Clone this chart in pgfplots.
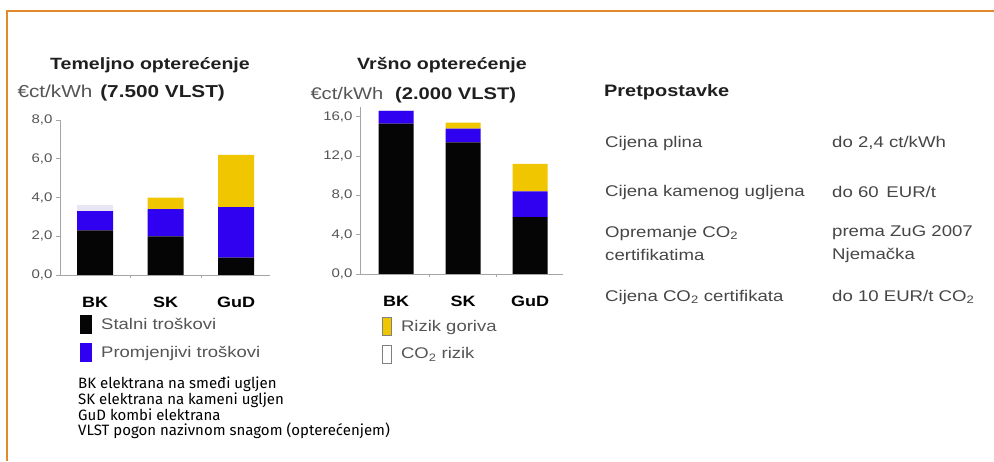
\documentclass[border=0pt]{standalone}
\usepackage{pgfplots}
\pgfplotsset{compat=1.18}
\usepackage{pgfplotstable}
\usepackage{fontspec}
\setmainfont{Liberation Sans}
\newfontfamily\cf[FakeStretch=1.2]{Liberation Sans}
\newfontfamily\notefont{Fira Sans}
\definecolor{barblack}{RGB}{5,5,5}
\definecolor{barblue}{RGB}{48,0,240}
\definecolor{baryellow}{RGB}{240,198,0}
\definecolor{barco}{RGB}{232,230,244}
\definecolor{axisgray}{RGB}{165,165,165}
\definecolor{labgray}{RGB}{85,85,85}
\definecolor{txtgray}{RGB}{70,70,70}
\definecolor{framecol}{RGB}{224,138,44}

\pgfplotstableread{
x fixed var fuel co
0 2.3 1.0 0.0 0.3
1 2.0 1.4 0.6 0.0
2 0.9 2.6 2.7 0.0
}\basetab
\pgfplotstableread{
x fixed var fuel co
0 15.3 1.3 0.0 0.1
1 13.4 1.4 0.6 0.0
2 5.8 2.6 2.8 0.0
}\peaktab

\pgfplotsset{
  barchart/.style={
    scale only axis, anchor=south west,
    ybar stacked,
    axis x line=bottom, axis y line=left,
    axis line style={draw=axisgray, line width=0.8pt, -},
    tick align=outside,
    major tick length=4pt, minor tick length=3pt,
    xtick={0,1,2}, xticklabels={BK,SK,GuD},
    minor xtick={0.5,1.5},
    major x tick style={draw=none},
    minor x tick style={draw=axisgray, line width=0.8pt},
    major y tick style={draw=axisgray, line width=0.8pt},
    xticklabel style={font=\cf\bfseries\fontsize{15}{15}\selectfont, text=black, anchor=center, yshift=-23pt},
    yticklabel style={font=\cf\fontsize{12.5}{12.5}\selectfont, text=labgray},
    /pgf/number format/.cd, fixed, fixed zerofill, precision=1, use comma, assume math mode=true,
    /pgfplots/.cd,
    ymin=0,
    legend style={draw=none, fill=none, anchor=north west,
      font=\cf\fontsize{15.4}{15.4}\selectfont\color{labgray},
      row sep=9pt, nodes={inner sep=0pt},
      /tikz/every odd column/.style={column sep=9pt}},
    legend cell align=left,
  }
}

\begin{document}
\begin{tikzpicture}[x=1pt,y=1pt]
\useasboundingbox (0,0) rectangle (994,461);
\fill[white] (0,0) rectangle (994,461);
\draw[framecol, line width=2.5pt] (7,0) -- (7,450) -- (995,450);

% ---- base load chart
\begin{axis}[barchart, at={(60pt,186pt)}, width=210pt, height=155pt,
  xmin=-0.5, xmax=2.48, ymax=8, ytick={0,2,4,6,8}, bar width=36pt,
  legend style={at={(0.081,-0.245)}},
  legend entries={Stalni troškovi, Promjenjivi troškovi}]
\addplot[fill=barblack, draw=none, legend image code/.code={\fill[barblack] (0pt,-9.5pt) rectangle (12pt,9.5pt);}] table[x=x,y=fixed]{\basetab};
\addplot[fill=barblue, draw=none, legend image code/.code={\fill[barblue] (0pt,-9.5pt) rectangle (12pt,9.5pt);}] table[x=x,y=var]{\basetab};
\addplot[fill=baryellow, draw=none] table[x=x,y=fuel]{\basetab};
\addplot[fill=barco, draw=none] table[x=x,y=co]{\basetab};
\end{axis}

% ---- peak load chart
\begin{axis}[barchart, at={(360pt,187pt)}, width=203pt, height=167pt,
  xmin=-0.54, xmax=2.49, ymax=17, ytick={0,4,8,12,16}, bar width=35pt,
  legend style={at={(0.094,-0.245)}},
  legend entries={,,Rizik goriva,CO\textsubscript{2} rizik}]
\addplot[fill=barblack, draw=none] table[x=x,y=fixed]{\peaktab};
\addplot[fill=barblue, draw=none] table[x=x,y=var]{\peaktab};
\addplot[fill=baryellow, draw=none, legend image code/.code={\filldraw[fill=baryellow, draw=gray, line width=0.6pt] (0pt,-9pt) rectangle (9pt,9pt);}] table[x=x,y=fuel]{\peaktab};
\addplot[fill=barco, draw=none, legend image code/.code={\filldraw[fill=white, draw=gray, line width=0.8pt] (0pt,-9pt) rectangle (9pt,9pt);}] table[x=x,y=co]{\peaktab};
\end{axis}

% ---- chart titles
\node[font=\cf\bfseries\fontsize{16.3}{16.3}\selectfont, text=black!88] at (150,396) {Temeljno optere\'{c}enje};
\node[anchor=west, font=\cf\fontsize{17.3}{17.3}\selectfont] at (14,368) {\color{labgray}€ct/kWh\hspace{0.45em}\color{black!88}\bfseries(7.500 VLST)};
\node[font=\cf\bfseries\fontsize{16.3}{16.3}\selectfont, text=black!88] at (442,396) {Vršno optere\'{c}enje};
\node[anchor=west, font=\cf\fontsize{16.8}{16.8}\selectfont] at (307,366) {\color{labgray}€ct/kWh\hspace{0.7em}\color{black!88}\bfseries(2.000 VLST)};

% ---- assumptions
\begin{scope}[every node/.style={anchor=west, font=\cf\fontsize{15.5}{15.5}\selectfont, text=txtgray, inner sep=0pt}]
\node[font=\cf\bfseries\fontsize{16.6}{16.6}\selectfont, text=black!88] at (604,369) {Pretpostavke};
\node at (605,318) {Cijena plina};
\node at (832,318) {do 2,4 ct/kWh};
\node at (605,269) {Cijena kamenog ugljena};
\node at (832,269) {do 60\hspace{0.5em}EUR/t};
\node at (605,228) {Opremanje CO\textsubscript{2}};
\node at (605,206) {certifikatima};
\node at (832,228) {prema ZuG 2007};
\node at (832,206) {Njema\v{c}ka};
\node at (605,164) {Cijena CO\textsubscript{2} certifikata};
\node at (832,164) {do 10 EUR/t CO\textsubscript{2}};
\end{scope}

% ---- notes
\begin{scope}[every node/.style={anchor=base west, font=\notefont\fontsize{15}{15}\selectfont, text=black, inner sep=0pt}]
\node at (78,72) {BK elektrana na smeđi ugljen};
\node at (78,56.5) {SK elektrana na kameni ugljen};
\node at (78,41) {GuD kombi elektrana};
\node at (78,25.5) {VLST pogon nazivnom snagom (optere\'{c}enjem)};
\end{scope}
\end{tikzpicture}
\end{document}
